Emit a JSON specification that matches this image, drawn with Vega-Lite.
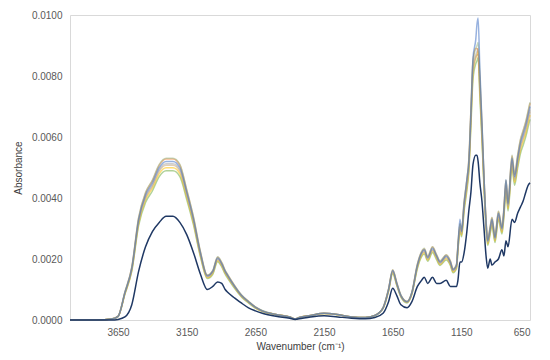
{
  "$schema": "https://vega.github.io/schema/vega-lite/v6.json",
  "width": 460,
  "height": 305,
  "autosize": {"type": "none"},
  "padding": {"left": 70, "top": 15, "right": 20, "bottom": 40},
  "background": "white",
  "config": {
    "view": {"stroke": "#d9d9d9", "strokeWidth": 1},
    "font": "Liberation Sans",
    "axis": {
      "labelFont": "Liberation Sans",
      "titleFont": "Liberation Sans",
      "labelFontSize": 10,
      "titleFontSize": 10,
      "labelColor": "#595959",
      "titleColor": "#404040",
      "titleFontWeight": "normal",
      "grid": false,
      "ticks": false,
      "domain": false
    }
  },
  "data": {
    "values": [
      {"w": 4000, "n": 0, "a": 0, "b": 0, "c": 0, "d": 0, "e": 0, "f": 0, "g": 0},
      {"w": 3900, "n": 0, "a": 0, "b": 0, "c": 0, "d": 0, "e": 0, "f": 0, "g": 0},
      {"w": 3800, "n": 0, "a": 0, "b": 0, "c": 0, "d": 0, "e": 0, "f": 0, "g": 0},
      {"w": 3700, "n": 0, "a": 0.00003, "b": 0.00003, "c": 0.00003, "d": 0.00003, "e": 0.00003, "f": 0.00003, "g": 0.00003},
      {"w": 3650, "n": 0.00002, "a": 0.00012, "b": 0.00012, "c": 0.00012, "d": 0.00012, "e": 0.00012, "f": 0.00011, "g": 0.00012},
      {"w": 3600, "n": 0.0001, "a": 0.0009, "b": 0.00091, "c": 0.00089, "d": 0.00086, "e": 0.00092, "f": 0.00085, "g": 0.00088},
      {"w": 3550, "n": 0.0005, "a": 0.0017, "b": 0.00173, "c": 0.00167, "d": 0.00163, "e": 0.00173, "f": 0.0016, "g": 0.00166},
      {"w": 3500, "n": 0.0016, "a": 0.0033, "b": 0.00335, "c": 0.00325, "d": 0.00317, "e": 0.00337, "f": 0.0031, "g": 0.00322},
      {"w": 3450, "n": 0.0024, "a": 0.0041, "b": 0.00416, "c": 0.00404, "d": 0.00394, "e": 0.00418, "f": 0.00385, "g": 0.004},
      {"w": 3400, "n": 0.0029, "a": 0.0045, "b": 0.00457, "c": 0.00443, "d": 0.00432, "e": 0.00459, "f": 0.00423, "g": 0.00439},
      {"w": 3350, "n": 0.0032, "a": 0.005, "b": 0.00508, "c": 0.00493, "d": 0.0048, "e": 0.0051, "f": 0.0047, "g": 0.00488},
      {"w": 3300, "n": 0.0034, "a": 0.0052, "b": 0.00528, "c": 0.00512, "d": 0.00499, "e": 0.0053, "f": 0.00489, "g": 0.00507},
      {"w": 3250, "n": 0.0034, "a": 0.0052, "b": 0.00528, "c": 0.00512, "d": 0.00499, "e": 0.0053, "f": 0.00489, "g": 0.00507},
      {"w": 3200, "n": 0.0032, "a": 0.005, "b": 0.00508, "c": 0.00493, "d": 0.0048, "e": 0.0051, "f": 0.0047, "g": 0.00488},
      {"w": 3150, "n": 0.0028, "a": 0.0042, "b": 0.00426, "c": 0.00414, "d": 0.00403, "e": 0.00428, "f": 0.00395, "g": 0.0041},
      {"w": 3100, "n": 0.0022, "a": 0.0033, "b": 0.00335, "c": 0.00325, "d": 0.00317, "e": 0.00337, "f": 0.0031, "g": 0.00322},
      {"w": 3050, "n": 0.0015, "a": 0.0022, "b": 0.00223, "c": 0.00217, "d": 0.00211, "e": 0.00224, "f": 0.00207, "g": 0.00215},
      {"w": 3000, "n": 0.001, "a": 0.00145, "b": 0.00147, "c": 0.00143, "d": 0.00139, "e": 0.00148, "f": 0.00136, "g": 0.00141},
      {"w": 2960, "n": 0.0011, "a": 0.0016, "b": 0.00162, "c": 0.00158, "d": 0.00154, "e": 0.00163, "f": 0.0015, "g": 0.00156},
      {"w": 2925, "n": 0.00125, "a": 0.00203, "b": 0.00206, "c": 0.002, "d": 0.00195, "e": 0.00207, "f": 0.00191, "g": 0.00198},
      {"w": 2895, "n": 0.0012, "a": 0.00185, "b": 0.00188, "c": 0.00182, "d": 0.00178, "e": 0.00189, "f": 0.00174, "g": 0.0018},
      {"w": 2870, "n": 0.001, "a": 0.0016, "b": 0.00162, "c": 0.00158, "d": 0.00154, "e": 0.00163, "f": 0.0015, "g": 0.00156},
      {"w": 2850, "n": 0.0009, "a": 0.00145, "b": 0.00147, "c": 0.00143, "d": 0.00139, "e": 0.00148, "f": 0.00136, "g": 0.00141},
      {"w": 2800, "n": 0.00072, "a": 0.0011, "b": 0.00112, "c": 0.00108, "d": 0.00106, "e": 0.00112, "f": 0.00103, "g": 0.00107},
      {"w": 2750, "n": 0.00055, "a": 0.0008, "b": 0.00081, "c": 0.00079, "d": 0.00077, "e": 0.00082, "f": 0.00075, "g": 0.00078},
      {"w": 2700, "n": 0.0004, "a": 0.0006, "b": 0.00061, "c": 0.00059, "d": 0.00058, "e": 0.00061, "f": 0.00056, "g": 0.00059},
      {"w": 2650, "n": 0.0003, "a": 0.00042, "b": 0.00043, "c": 0.00041, "d": 0.0004, "e": 0.00043, "f": 0.00039, "g": 0.00041},
      {"w": 2600, "n": 0.00022, "a": 0.0003, "b": 0.0003, "c": 0.0003, "d": 0.00029, "e": 0.00031, "f": 0.00028, "g": 0.00029},
      {"w": 2500, "n": 0.00012, "a": 0.00018, "b": 0.00018, "c": 0.00018, "d": 0.00018, "e": 0.00018, "f": 0.00017, "g": 0.00018},
      {"w": 2400, "n": 0.00006, "a": 0.0001, "b": 0.0001, "c": 0.0001, "d": 0.0001, "e": 0.0001, "f": 0.0001, "g": 0.0001},
      {"w": 2360, "n": 0.00002, "a": 0.00003, "b": 0.00003, "c": 0.00003, "d": 0.00003, "e": 0.00003, "f": 0.00003, "g": 0.00003},
      {"w": 2330, "n": 0.00004, "a": 0.00008, "b": 0.00008, "c": 0.00008, "d": 0.00008, "e": 0.00008, "f": 0.00008, "g": 0.00008},
      {"w": 2250, "n": 0.0001, "a": 0.00015, "b": 0.00015, "c": 0.00015, "d": 0.00015, "e": 0.00015, "f": 0.00014, "g": 0.00015},
      {"w": 2150, "n": 0.00014, "a": 0.00022, "b": 0.00022, "c": 0.00022, "d": 0.00021, "e": 0.00022, "f": 0.00021, "g": 0.00021},
      {"w": 2050, "n": 0.0001, "a": 0.00018, "b": 0.00018, "c": 0.00018, "d": 0.00017, "e": 0.00018, "f": 0.00017, "g": 0.00018},
      {"w": 1950, "n": 0.00006, "a": 0.0001, "b": 0.0001, "c": 0.0001, "d": 0.0001, "e": 0.0001, "f": 0.0001, "g": 0.0001},
      {"w": 1850, "n": 0.00004, "a": 0.00008, "b": 0.00008, "c": 0.00008, "d": 0.00008, "e": 0.00008, "f": 0.00008, "g": 0.00008},
      {"w": 1780, "n": 0.00008, "a": 0.00015, "b": 0.00015, "c": 0.00015, "d": 0.00015, "e": 0.00015, "f": 0.00014, "g": 0.00015},
      {"w": 1720, "n": 0.00022, "a": 0.0004, "b": 0.00041, "c": 0.00039, "d": 0.00038, "e": 0.00041, "f": 0.00038, "g": 0.00039},
      {"w": 1680, "n": 0.0006, "a": 0.001, "b": 0.00102, "c": 0.00099, "d": 0.00096, "e": 0.00102, "f": 0.00094, "g": 0.00098},
      {"w": 1650, "n": 0.00104, "a": 0.00162, "b": 0.00164, "c": 0.0016, "d": 0.00156, "e": 0.00165, "f": 0.00152, "g": 0.00158},
      {"w": 1620, "n": 0.0008, "a": 0.0012, "b": 0.00122, "c": 0.00118, "d": 0.00115, "e": 0.00122, "f": 0.00113, "g": 0.00117},
      {"w": 1590, "n": 0.0005, "a": 0.0008, "b": 0.00081, "c": 0.00079, "d": 0.00077, "e": 0.00082, "f": 0.00075, "g": 0.00078},
      {"w": 1545, "n": 0.0004, "a": 0.0006, "b": 0.00061, "c": 0.00059, "d": 0.00058, "e": 0.00061, "f": 0.00056, "g": 0.00059},
      {"w": 1510, "n": 0.0006, "a": 0.0009, "b": 0.00091, "c": 0.00089, "d": 0.00086, "e": 0.00092, "f": 0.00085, "g": 0.00088},
      {"w": 1470, "n": 0.0011, "a": 0.0018, "b": 0.00183, "c": 0.00177, "d": 0.00173, "e": 0.00184, "f": 0.00169, "g": 0.00176},
      {"w": 1440, "n": 0.0013, "a": 0.0022, "b": 0.00223, "c": 0.00217, "d": 0.00211, "e": 0.00224, "f": 0.00207, "g": 0.00215},
      {"w": 1420, "n": 0.0014, "a": 0.0023, "b": 0.00233, "c": 0.00227, "d": 0.00221, "e": 0.00235, "f": 0.00216, "g": 0.00224},
      {"w": 1395, "n": 0.0012, "a": 0.00205, "b": 0.00208, "c": 0.00202, "d": 0.00197, "e": 0.00209, "f": 0.00193, "g": 0.002},
      {"w": 1360, "n": 0.0014, "a": 0.00235, "b": 0.00239, "c": 0.00231, "d": 0.00226, "e": 0.0024, "f": 0.00221, "g": 0.00229},
      {"w": 1330, "n": 0.0012, "a": 0.0021, "b": 0.00213, "c": 0.00207, "d": 0.00202, "e": 0.00214, "f": 0.00197, "g": 0.00205},
      {"w": 1305, "n": 0.0012, "a": 0.0019, "b": 0.00193, "c": 0.00187, "d": 0.00182, "e": 0.00194, "f": 0.00179, "g": 0.00185},
      {"w": 1260, "n": 0.0013, "a": 0.0021, "b": 0.00213, "c": 0.00207, "d": 0.00202, "e": 0.00214, "f": 0.00197, "g": 0.00205},
      {"w": 1230, "n": 0.0011, "a": 0.0019, "b": 0.00193, "c": 0.00187, "d": 0.00182, "e": 0.00194, "f": 0.00179, "g": 0.00185},
      {"w": 1210, "n": 0.0011, "a": 0.00165, "b": 0.00167, "c": 0.00163, "d": 0.00158, "e": 0.00168, "f": 0.00155, "g": 0.00161},
      {"w": 1185, "n": 0.0011, "a": 0.0018, "b": 0.00183, "c": 0.00177, "d": 0.00173, "e": 0.00184, "f": 0.00169, "g": 0.00176},
      {"w": 1175, "n": 0.0013, "a": 0.0024, "b": 0.00244, "c": 0.00236, "d": 0.0023, "e": 0.00245, "f": 0.00226, "g": 0.00234},
      {"w": 1160, "n": 0.0019, "a": 0.0033, "b": 0.00315, "c": 0.00305, "d": 0.00298, "e": 0.00316, "f": 0.00291, "g": 0.00302},
      {"w": 1148, "n": 0.0019, "a": 0.0029, "b": 0.00294, "c": 0.00286, "d": 0.00278, "e": 0.00296, "f": 0.00273, "g": 0.00283},
      {"w": 1130, "n": 0.0022, "a": 0.0038, "b": 0.00386, "c": 0.00374, "d": 0.00365, "e": 0.00388, "f": 0.00357, "g": 0.00371},
      {"w": 1110, "n": 0.0029, "a": 0.0046, "b": 0.00457, "c": 0.00443, "d": 0.00432, "e": 0.00459, "f": 0.00423, "g": 0.00439},
      {"w": 1095, "n": 0.0036, "a": 0.0052, "b": 0.00528, "c": 0.00512, "d": 0.00499, "e": 0.0053, "f": 0.00489, "g": 0.00507},
      {"w": 1080, "n": 0.0042, "a": 0.0068, "b": 0.0069, "c": 0.0067, "d": 0.00653, "e": 0.00694, "f": 0.00639, "g": 0.00663},
      {"w": 1065, "n": 0.0051, "a": 0.0086, "b": 0.0085, "c": 0.0083, "d": 0.0081, "e": 0.0085, "f": 0.0079, "g": 0.0082},
      {"w": 1045, "n": 0.0054, "a": 0.0092, "b": 0.0089, "c": 0.0087, "d": 0.0086, "e": 0.0089, "f": 0.0084, "g": 0.0086},
      {"w": 1036, "n": 0.0054, "a": 0.0097, "b": 0.0089, "c": 0.0088, "d": 0.0087, "e": 0.009, "f": 0.0085, "g": 0.0087},
      {"w": 1028, "n": 0.0052, "a": 0.0099, "b": 0.0088, "c": 0.0089, "d": 0.0088, "e": 0.0091, "f": 0.0086, "g": 0.0087},
      {"w": 1015, "n": 0.0045, "a": 0.0082, "b": 0.0079, "c": 0.0077, "d": 0.0075, "e": 0.008, "f": 0.0073, "g": 0.0076},
      {"w": 1000, "n": 0.0039, "a": 0.0065, "b": 0.00639, "c": 0.00621, "d": 0.00605, "e": 0.00643, "f": 0.00592, "g": 0.00614},
      {"w": 985, "n": 0.003, "a": 0.0047, "b": 0.00467, "c": 0.00453, "d": 0.00442, "e": 0.00469, "f": 0.00432, "g": 0.00449},
      {"w": 970, "n": 0.0021, "a": 0.0032, "b": 0.00325, "c": 0.00315, "d": 0.00307, "e": 0.00326, "f": 0.00301, "g": 0.00312},
      {"w": 958, "n": 0.0017, "a": 0.0026, "b": 0.00264, "c": 0.00256, "d": 0.0025, "e": 0.00265, "f": 0.00244, "g": 0.00254},
      {"w": 940, "n": 0.002, "a": 0.003, "b": 0.00305, "c": 0.00296, "d": 0.00288, "e": 0.00306, "f": 0.00282, "g": 0.00293},
      {"w": 927, "n": 0.0018, "a": 0.0033, "b": 0.00335, "c": 0.00325, "d": 0.00317, "e": 0.00337, "f": 0.0031, "g": 0.00322},
      {"w": 905, "n": 0.0019, "a": 0.0027, "b": 0.00274, "c": 0.00266, "d": 0.00259, "e": 0.00275, "f": 0.00254, "g": 0.00263},
      {"w": 880, "n": 0.002, "a": 0.0035, "b": 0.00355, "c": 0.00345, "d": 0.00336, "e": 0.00357, "f": 0.00329, "g": 0.00341},
      {"w": 854, "n": 0.0023, "a": 0.003, "b": 0.00305, "c": 0.00296, "d": 0.00288, "e": 0.00306, "f": 0.00282, "g": 0.00293},
      {"w": 840, "n": 0.0021, "a": 0.0036, "b": 0.00365, "c": 0.00355, "d": 0.00346, "e": 0.00367, "f": 0.00338, "g": 0.00351},
      {"w": 825, "n": 0.0026, "a": 0.0046, "b": 0.00457, "c": 0.00443, "d": 0.00432, "e": 0.00459, "f": 0.00423, "g": 0.00439},
      {"w": 810, "n": 0.0024, "a": 0.0038, "b": 0.00386, "c": 0.00374, "d": 0.00365, "e": 0.00388, "f": 0.00357, "g": 0.00371},
      {"w": 781, "n": 0.0033, "a": 0.0053, "b": 0.00538, "c": 0.00522, "d": 0.00509, "e": 0.00541, "f": 0.00498, "g": 0.00517},
      {"w": 762, "n": 0.0032, "a": 0.0047, "b": 0.00477, "c": 0.00463, "d": 0.00451, "e": 0.00479, "f": 0.00442, "g": 0.00458},
      {"w": 740, "n": 0.0035, "a": 0.0053, "b": 0.00538, "c": 0.00522, "d": 0.00509, "e": 0.00541, "f": 0.00498, "g": 0.00517},
      {"w": 720, "n": 0.0037, "a": 0.0058, "b": 0.00589, "c": 0.00571, "d": 0.00557, "e": 0.00592, "f": 0.00545, "g": 0.00566},
      {"w": 700, "n": 0.0039, "a": 0.0061, "b": 0.00619, "c": 0.00601, "d": 0.00586, "e": 0.00622, "f": 0.00573, "g": 0.00595},
      {"w": 680, "n": 0.0042, "a": 0.0064, "b": 0.0065, "c": 0.0063, "d": 0.00614, "e": 0.00653, "f": 0.00602, "g": 0.00624},
      {"w": 665, "n": 0.0044, "a": 0.0067, "b": 0.0068, "c": 0.0066, "d": 0.00643, "e": 0.00683, "f": 0.0063, "g": 0.00653},
      {"w": 650, "n": 0.0045, "a": 0.007, "b": 0.00711, "c": 0.0069, "d": 0.00672, "e": 0.00714, "f": 0.00658, "g": 0.00683}
    ]
  },
  "transform": [
    {"fold": ["f", "d", "g", "c", "b", "e", "a", "n"], "as": ["series", "value"]}
  ],
  "mark": {"type": "line", "strokeWidth": 1.5, "interpolate": "monotone"},
  "encoding": {
    "x": {
      "field": "w",
      "type": "quantitative",
      "scale": {"domain": [650, 4000], "reverse": true, "nice": false, "zero": false},
      "axis": {
        "values": [3650, 3150, 2650, 2150, 1650, 1150, 650],
        "format": "d",
        "title": "Wavenumber (cm⁻¹)",
        "labelPadding": 7,
        "titlePadding": 4
      }
    },
    "y": {
      "field": "value",
      "type": "quantitative",
      "scale": {"domain": [0, 0.01], "nice": false},
      "axis": {
        "values": [0, 0.002, 0.004, 0.006, 0.008, 0.01],
        "format": ".4f",
        "title": "Absorbance",
        "labelPadding": 8,
        "titlePadding": 8
      }
    },
    "color": {
      "field": "series",
      "type": "nominal",
      "scale": {
        "domain": ["f", "d", "g", "c", "b", "e", "a", "n"],
        "range": ["#70AD47", "#FFC000", "#C9A77C", "#A5A5A5", "#ED7D31", "#9DB88A", "#4472C4", "#1F3864"]
      },
      "legend": null
    },
    "opacity": {
      "condition": {"test": "datum.series === 'n'", "value": 1},
      "value": 0.55
    },
    "order": {"field": "w", "type": "quantitative", "sort": "descending"}
  }
}
